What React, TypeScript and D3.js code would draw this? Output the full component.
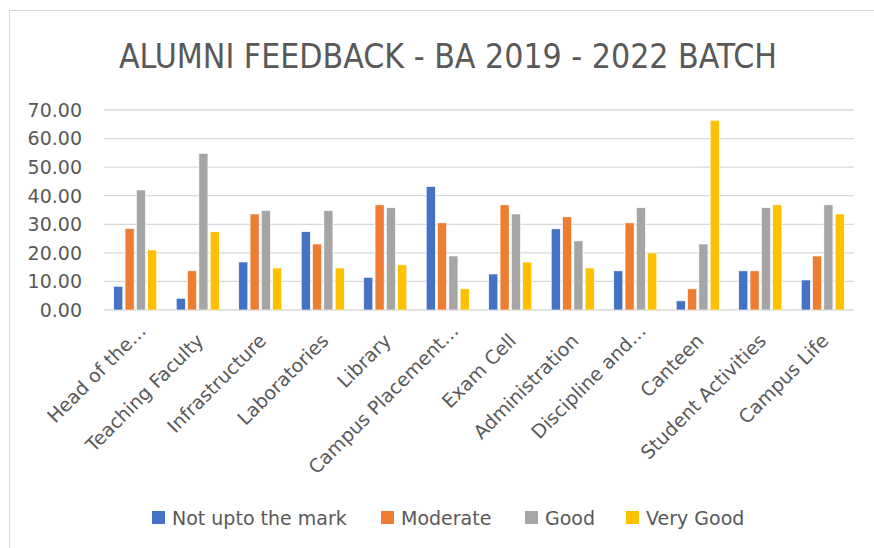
import React from 'react';
import * as d3 from 'd3';

const categories = [
  'Head of the…', 'Teaching Faculty', 'Infrastructure', 'Laboratories', 'Library',
  'Campus Placement…', 'Exam Cell', 'Administration', 'Discipline and…', 'Canteen',
  'Student Activities', 'Campus Life',
];
const seriesNames = ['Not upto the mark', 'Moderate', 'Good', 'Very Good'];
const notUpToMark = [8.3, 4.1, 16.8, 27.4, 11.4, 43.2, 12.6, 28.4, 13.7, 3.2, 13.7, 10.5];
const moderate = [28.5, 13.7, 33.6, 23.1, 36.8, 30.5, 36.8, 32.6, 30.5, 7.4, 13.7, 18.9];
const good = [42.0, 54.8, 34.8, 34.8, 35.8, 18.9, 33.6, 24.2, 35.8, 23.1, 35.8, 36.8];
const veryGood = [21.0, 27.4, 14.7, 14.7, 15.8, 7.4, 16.8, 14.7, 20.0, 66.4, 36.8, 33.6];
const yTicks = [0, 10, 20, 30, 40, 50, 60, 70];
const colors = ['#4472C4', '#ED7D31', '#A5A5A5', '#FFC000'];

const series = [notUpToMark, moderate, good, veryGood];

export default function App() {
  const width = 874;
  const height = 548;
  const left = 104;
  const right = 854;
  const top = 110;
  const bottom = 310;
  const font = '"DejaVu Sans", sans-serif';
  const textColor = '#595959';

  const x0 = d3.scaleBand<string>().domain(categories).range([left, right]);
  const x1 = d3.scaleBand<number>().domain(d3.range(series.length)).range([0, 43]).paddingInner(0.2);
  const y = d3.scaleLinear().domain([0, 70]).range([bottom, top]);

  const translate = (a: number, b: number) => `translate(${a},${b})`;

  // legend layout
  const legendX = [152, 381, 525, 626];

  return (
    <svg width={width} height={height} style={{ position: 'absolute', left: 0, top: 0, background: '#fff' }}>
      <rect x={9.5} y={10.5} width={900} height={600} fill="#fff" stroke="#d9d9d9" strokeWidth={1} />
      <text x={448} y={68} textAnchor="middle" fontFamily={'"DejaVu Sans Condensed", "DejaVu Sans", sans-serif'}
        fontSize={34} fill={textColor} textLength={658} lengthAdjust="spacingAndGlyphs">
        ALUMNI FEEDBACK - BA 2019 - 2022 BATCH
      </text>
      <g>
        {yTicks.map(t => (
          <g key={t}>
            <line x1={left} x2={right} y1={y(t)} y2={y(t)} stroke="#d9d9d9" strokeWidth={1.3} />
            <text x={82} y={y(t)} dy="0.36em" textAnchor="end" fontFamily={font} fontSize={19} fill={textColor}>
              {t.toFixed(2)}
            </text>
          </g>
        ))}
      </g>
      <g>
        {categories.map((c, ci) => (
          <g key={c} transform={translate(x0(c)! + x0.bandwidth() / 2 - 21.5, 0)}>
            {series.map((s, si) => (
              <rect key={si} x={x1(si)} y={y(s[ci])} width={x1.bandwidth()} height={y(0) - y(s[ci])}
                fill={colors[si]} stroke="#fff" strokeWidth={0.6} />
            ))}
          </g>
        ))}
      </g>
      <g>
        {categories.map(c => {
          const cx = x0(c)! + x0.bandwidth() / 2;
          const truncated = c.endsWith('…');
          const tx = truncated ? cx + 12 : cx + 7;
          const ty = truncated ? 332 : 342;
          return (
            <text key={c} transform={`${translate(tx, ty)} rotate(-45)`} textAnchor="end"
              fontFamily={font} fontSize={19} fill={textColor}>
              {c}
            </text>
          );
        })}
      </g>
      <g>
        {seriesNames.map((n, i) => (
          <g key={n} transform={translate(legendX[i], 511)}>
            <rect width={13} height={13} fill={colors[i]} />
            <text x={20} y={14} fontFamily={font} fontSize={19} fill={textColor}>{n}</text>
          </g>
        ))}
      </g>
    </svg>
  );
}
